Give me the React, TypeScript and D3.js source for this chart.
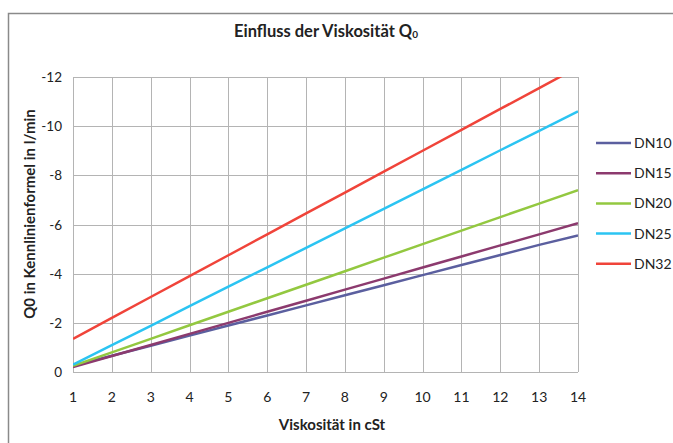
import { useRef, useEffect } from "react";
import * as d3 from "d3";

const viscosity = [1, 2, 3, 4, 5, 6, 7, 8, 9, 10, 11, 12, 13, 14];
const dn10 = [-0.25, -0.66, -1.07, -1.48, -1.89, -2.3, -2.71, -3.12, -3.53, -3.94, -4.35, -4.76, -5.17, -5.55];
const dn15 = [-0.2, -0.65, -1.1, -1.55, -2.0, -2.45, -2.9, -3.35, -3.8, -4.25, -4.7, -5.15, -5.6, -6.05];
const dn20 = [-0.25, -0.8, -1.35, -1.9, -2.45, -3.0, -3.55, -4.1, -4.65, -5.2, -5.75, -6.3, -6.85, -7.4];
const dn25 = [-0.3, -1.09, -1.88, -2.68, -3.47, -4.26, -5.05, -5.84, -6.64, -7.43, -8.22, -9.02, -9.81, -10.6];
const dn32 = [-1.35, -2.2, -3.05, -3.9, -4.75, -5.6, -6.45, -7.3, -8.15, -9.0, -9.85, -10.7, -11.55, -12.4];
const seriesNames = ["DN10", "DN15", "DN20", "DN25", "DN32"];
const seriesColors = ["#5b5f9f", "#8c3a6e", "#93c840", "#2bc4f2", "#f0443a"];
const yTicks = [0, -2, -4, -6, -8, -10, -12];

export default function App() {
  const ref = useRef<SVGSVGElement>(null);

  useEffect(() => {
    if (!ref.current) return;
    const svg = d3.select(ref.current);
    svg.selectAll("*").remove();
    const W = 673, H = 443;
    const font = "Lato, 'Open Sans', sans-serif";
    svg.attr("width", W).attr("height", H).attr("font-family", font);

    svg.append("rect").attr("width", W).attr("height", H).attr("fill", "#fff");
    // outer chart frame (runs off the right and bottom)
    svg.append("rect")
      .attr("x", 8.5).attr("y", 13.5).attr("width", 800).attr("height", 600)
      .attr("fill", "none").attr("stroke", "#8a8a8a").attr("stroke-width", 1.5);

    const x = d3.scaleLinear().domain([1, 14]).range([73, 578]);
    const y = d3.scaleLinear().domain([0, -12]).range([372, 77]);

    const grid = svg.append("g").attr("stroke", "#b4b4b4").attr("stroke-width", 1);
    viscosity.forEach((v) => {
      grid.append("line")
        .attr("x1", Math.round(x(v)) + 0.5).attr("x2", Math.round(x(v)) + 0.5)
        .attr("y1", y(-12)).attr("y2", y(0));
    });
    yTicks.forEach((t) => {
      grid.append("line")
        .attr("x1", x(1)).attr("x2", x(14))
        .attr("y1", Math.round(y(t)) + 0.5).attr("y2", Math.round(y(t)) + 0.5);
    });

    svg.append("clipPath").attr("id", "plotclip")
      .append("rect").attr("x", x(1)).attr("y", y(-12)).attr("width", x(14) - x(1)).attr("height", y(0) - y(-12));

    const all = [dn10, dn15, dn20, dn25, dn32];
    const line = d3.line<number>().x((_, i) => x(viscosity[i])).y((d) => y(d));
    const lines = svg.append("g").attr("clip-path", "url(#plotclip)");
    all.forEach((s, i) => {
      lines.append("path").attr("d", line(s)).attr("fill", "none")
        .attr("stroke", seriesColors[i]).attr("stroke-width", 2.5);
    });

    // titles
    const title = svg.append("text").attr("x", 326).attr("y", 37).attr("text-anchor", "middle")
      .attr("font-size", 16.5).attr("font-weight", 700).attr("fill", "#222");
    title.append("tspan").text("Einfluss der Viskosität Q");
    title.append("tspan").attr("font-size", 10).attr("dy", 1).text("0");

    svg.append("text").attr("x", 332).attr("y", 430).attr("text-anchor", "middle")
      .attr("font-size", 15).attr("font-weight", 700).attr("fill", "#222").text("Viskosität in cSt");
    svg.append("text").attr("transform", "translate(35,214) rotate(-90)")
      .attr("text-anchor", "middle").attr("font-size", 15).attr("font-weight", 700).attr("fill", "#222")
      .text("Q0 in Kennlinienformel in l/min");

    // tick labels
    svg.append("g").selectAll("text").data(yTicks).join("text")
      .attr("x", 62).attr("y", (d) => y(d) + 5).attr("text-anchor", "end")
      .attr("font-size", 13.5).attr("fill", "#222").text((d) => d);
    svg.append("g").selectAll("text").data(viscosity).join("text")
      .attr("x", (d) => x(d)).attr("y", 402).attr("text-anchor", "middle")
      .attr("font-size", 14).attr("fill", "#222").text((d) => d);

    // legend
    const leg = svg.append("g");
    seriesNames.forEach((n, i) => {
      const ly = 143 + i * 30.2;
      leg.append("line").attr("x1", 596).attr("x2", 631).attr("y1", ly).attr("y2", ly)
        .attr("stroke", seriesColors[i]).attr("stroke-width", 2.5);
      leg.append("text").attr("x", 634).attr("y", ly + 5).attr("font-size", 14).attr("fill", "#222").text(n);
    });
  }, []);

  return <svg ref={ref} style={{ display: "block", position: "absolute", left: 0, top: 0 }} />;
}
